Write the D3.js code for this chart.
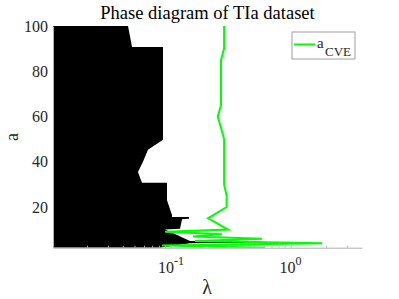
<!DOCTYPE html>
<html><head><meta charset="utf-8">
<script src="https://cdn.jsdelivr.net/npm/d3@7/dist/d3.min.js"></script>
<style>html,body{margin:0;padding:0;background:#fff;}svg{display:block;}</style>
</head><body>
<script>
// ---- data ----
const titleText = "Phase diagram of TIa dataset";
const yTicks = [20, 40, 60, 80, 100];
const xMajorTicks = [0.1, 1];
const xTickExponents = ["-1", "0"];
const xMinorTicks = [0.02,0.03,0.04,0.05,0.06,0.07,0.08,0.09,0.2,0.3,0.4,0.5,0.6,0.7,0.8,0.9,2,3];
const lambdaRange = [0.0103, 3.96];
const aRange = [2, 100];

// boundary of the black (phase) region: a values and lambda values
const boundaryA      = [100, 90.7, 90.7, 49.7, 45.3, 40, 35.5, 30.7, 30.7, 23, 16.5, 15.6, 15.6, 14.8, 14.6, 10.4, 10, 9, 5, 4.6, 4.2, 4, 2];
const boundaryLambda = [0.0437, 0.0472, 0.0857, 0.0857, 0.0642, 0.0583, 0.0529, 0.0572, 0.0926, 0.0926, 0.1019, 0.1019, 0.1415, 0.1415, 0.1237, 0.1190, 0.0891, 0.0981, 0.1442, 0.5888, 0.5888, 0.1442, 0.0809];

// a_CVE curve
const cveA      = [100, 95, 90, 85, 80, 75, 70, 65, 60, 55, 50, 45, 40, 35, 30, 25, 20, 15, 10, 9, 8, 7, 6, 5, 4, 3, 2];
const cveLambda = [0.278, 0.278, 0.278, 0.262, 0.262, 0.262, 0.262, 0.262, 0.246, 0.262, 0.278, 0.278, 0.278, 0.278, 0.278, 0.292, 0.292, 0.204, 0.300, 0.0891, 0.267, 0.1528, 0.5774, 0.1588, 1.835, 0.0841, 0.6117];

// ---- drawing ----
const W = 399, H = 299;
const L = 53, R = 362, T = 26, B = 247.7;
const svg = d3.select("body").append("svg").attr("width", W).attr("height", H);
const x = d3.scaleLog().domain(lambdaRange).range([L, R]);
const y = d3.scaleLinear().domain(aRange).range([B, T]);
const serif = "'Liberation Serif','Times New Roman',serif";
const axisCol = "#b0b0b0", textCol = "#262626";

svg.append("defs").append("clipPath").attr("id", "clip")
  .append("rect").attr("x", L).attr("y", T).attr("width", R - L).attr("height", B - T);

const plot = svg.append("g").attr("clip-path", "url(#clip)");

// black region
const poly = boundaryA.map((a, i) => [x(boundaryLambda[i]), y(a)]);
poly.push([x(lambdaRange[0]), y(aRange[0])]);
poly.push([x(lambdaRange[0]), y(aRange[1])]);
plot.append("path")
  .attr("d", "M" + poly.map(p => p.join(",")).join("L") + "Z")
  .attr("fill", "#000").attr("stroke", "none");

// green curve
const line = d3.line().x(d => x(d[1])).y(d => y(d[0]));
plot.append("path")
  .datum(cveA.map((a, i) => [a, cveLambda[i]]))
  .attr("d", line)
  .attr("fill", "none").attr("stroke", "#00ff00").attr("stroke-width", 2)
  .attr("stroke-linejoin", "miter");

// axes
const xAxis = svg.append("g").attr("transform", `translate(0,${B})`);
xAxis.call(d3.axisBottom(x).tickValues(xMajorTicks).tickSizeInner(-3).tickSizeOuter(0).tickFormat(""));
xAxis.select(".domain").attr("stroke", axisCol);
xAxis.selectAll(".tick line").attr("stroke", axisCol);
xAxis.selectAll(".minor").data(xMinorTicks).enter().append("line")
  .attr("x1", d => x(d)).attr("x2", d => x(d)).attr("y1", 0).attr("y2", -2)
  .attr("stroke", axisCol);

xMajorTicks.forEach((v, i) => {
  const t = svg.append("text").attr("x", x(v)).attr("y", 273)
    .attr("text-anchor", "middle").attr("font-family", serif).attr("fill", textCol)
    .attr("font-size", 16);
  t.append("tspan").text("10");
  t.append("tspan").attr("dy", -8).attr("font-size", 12).text(xTickExponents[i]);
});

const yAxis = svg.append("g").attr("transform", `translate(${L},0)`);
yAxis.call(d3.axisLeft(y).tickValues(yTicks).tickSizeInner(0).tickSizeOuter(0).tickPadding(5));
yAxis.select(".domain").attr("stroke", axisCol);
yAxis.selectAll(".tick text").attr("font-family", serif).attr("font-size", 16).attr("fill", textCol);

// titles
svg.append("text").attr("x", 207.5).attr("y", 18.5).attr("text-anchor", "middle")
  .attr("font-family", serif).attr("font-size", 18.5).attr("fill", "#000").text(titleText);
svg.append("text").attr("x", 207).attr("y", 294).attr("text-anchor", "middle")
  .attr("font-family", serif).attr("font-size", 20).attr("fill", textCol).text("λ");
svg.append("text").attr("transform", "translate(18,137) rotate(-90)").attr("text-anchor", "middle")
  .attr("font-family", serif).attr("font-size", 18).attr("fill", textCol).text("a");

// legend
const lg = svg.append("g");
lg.append("rect").attr("x", 292).attr("y", 32).attr("width", 63).attr("height", 27)
  .attr("fill", "#fff").attr("stroke", "#a0a0a0").attr("stroke-width", 1);
lg.append("line").attr("x1", 294).attr("x2", 315).attr("y1", 44.5).attr("y2", 44.5)
  .attr("stroke", "#00ff00").attr("stroke-width", 2);
const lt = lg.append("text").attr("x", 317).attr("y", 47.5)
  .attr("font-family", serif).attr("font-size", 15).attr("fill", textCol);
lt.append("tspan").text("a");
lt.append("tspan").attr("x", 325).attr("y", 56).attr("font-size", 13).text("CVE");
</script>
</body></html>
